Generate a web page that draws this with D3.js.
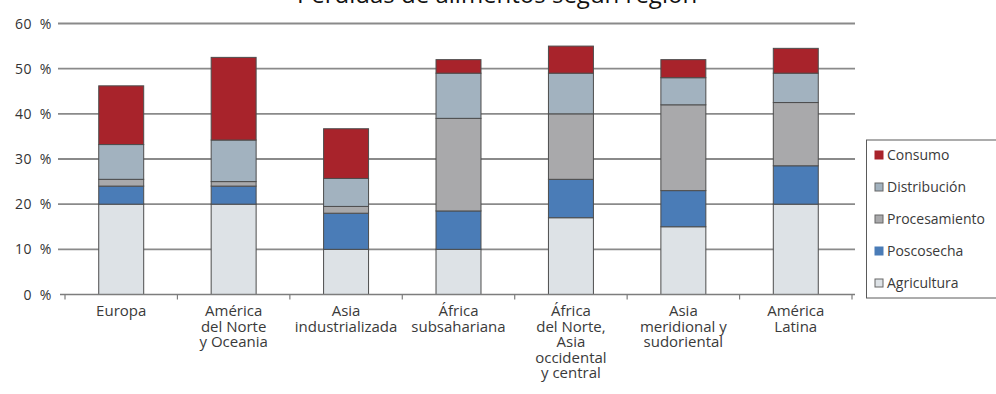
<!DOCTYPE html>
<html lang="es">
<head>
<meta charset="utf-8">
<script src="https://cdn.jsdelivr.net/npm/d3@7/dist/d3.min.js"></script>
<style>
  html, body { margin: 0; padding: 0; background: #ffffff; }
  svg { display: block; }
  text { font-family: "Open Sans", "Noto Sans", sans-serif; fill: #3a3a3a; }
</style>
</head>
<body>
<svg id="chart" width="996" height="394"></svg>
<script>
// Regiones (con sus saltos de línea) y porcentajes de pérdida por etapa
const categories = [
  "Europa",
  "América del Norte y Oceania",
  "Asia industrializada",
  "África subsahariana",
  "África del Norte, Asia occidental y central",
  "Asia meridional y sudoriental",
  "América Latina"
];
const categoryLines = [
  ["Europa"],
  ["América", "del Norte", "y Oceania"],
  ["Asia", "industrializada"],
  ["África", "subsahariana"],
  ["África", "del Norte,", "Asia", "occidental", "y central"],
  ["Asia", "meridional y", "sudoriental"],
  ["América", "Latina"]
];
const stages = ["Agricultura", "Poscosecha", "Procesamiento", "Distribución", "Consumo"];
const agricultura   = [20, 20, 10, 10, 17, 15, 20];
const poscosecha    = [4, 4, 8, 8.5, 8.5, 8, 8.5];
const procesamiento = [1.5, 1, 1.5, 20.5, 14.5, 19, 14];
const distribucion  = [7.7, 9.2, 6.2, 10, 9, 6, 6.5];
const consumo       = [13, 18.3, 11, 3, 6, 4, 5.5];
const yTicks = [0, 10, 20, 30, 40, 50, 60];
const titleText = "Pérdidas de alimentos según región";

const colors = {
  "Agricultura":   "#dde2e6",
  "Poscosecha":    "#4a7cb7",
  "Procesamiento": "#a9a9ab",
  "Distribución":  "#a2b2bf",
  "Consumo":       "#a8232b"
};

const seriesByStage = {
  "Agricultura": agricultura,
  "Poscosecha": poscosecha,
  "Procesamiento": procesamiento,
  "Distribución": distribucion,
  "Consumo": consumo
};
const rows = categories.map((c, i) => {
  const r = { region: c };
  stages.forEach(s => { r[s] = seriesByStage[s][i]; });
  return r;
});

const svg = d3.select("#chart");

const x = d3.scaleBand()
  .domain(categories)
  .range([65, 852])
  .paddingInner(0.6)
  .paddingOuter(0.3);

const y = d3.scaleLinear()
  .domain([0, 60])
  .range([294.5, 23.5]);

// Título (parte superior del lienzo)
svg.append("text")
  .attr("x", 497)
  .attr("y", 3)
  .attr("text-anchor", "middle")
  .style("font-family", "'Open Sans', sans-serif")
  .style("font-size", "24px")
  .style("fill", "#111")
  .text(titleText);

// Líneas de cuadrícula horizontales
const grid = svg.append("g");
grid.selectAll("line")
  .data(yTicks.filter(d => d > 0))
  .join("line")
  .attr("x1", 58)
  .attr("x2", 855)
  .attr("y1", d => y(d))
  .attr("y2", d => y(d))
  .attr("stroke", "#8a8a8a")
  .attr("stroke-width", 1.8);

// Etiquetas del eje Y
svg.append("g").selectAll("text")
  .data(yTicks)
  .join("text")
  .attr("x", 52)
  .attr("y", d => y(d))
  .attr("dy", "0.36em")
  .attr("text-anchor", "end")
  .style("font-size", "14px")
  .style("letter-spacing", "0.6px")
  .style("fill", "#333")
  .text(d => d + "\u2002%");

// Barras apiladas
const stacked = d3.stack().keys(stages)(rows);
svg.append("g")
  .selectAll("g")
  .data(stacked)
  .join("g")
  .attr("fill", d => colors[d.key])
  .selectAll("rect")
  .data(d => d)
  .join("rect")
  .attr("x", d => x(d.data.region))
  .attr("width", x.bandwidth())
  .attr("y", d => y(d[1]))
  .attr("height", d => y(d[0]) - y(d[1]))
  .attr("stroke", "#4d4d4d")
  .attr("stroke-width", 1);

// Eje X: línea base y marcas entre regiones
const xAxis = svg.append("g");
xAxis.append("line")
  .attr("x1", 60).attr("x2", 855)
  .attr("y1", y(0)).attr("y2", y(0))
  .attr("stroke", "#7d7d7d")
  .attr("stroke-width", 1.6);
const step = x.step();
const boundaries = d3.range(categories.length + 1).map(i => x.range()[0] + i * step);
xAxis.selectAll("line.tick")
  .data(boundaries)
  .join("line")
  .attr("class", "tick")
  .attr("x1", d => d).attr("x2", d => d)
  .attr("y1", y(0)).attr("y2", y(0) + 5)
  .attr("stroke", "#7d7d7d")
  .attr("stroke-width", 1.2);

// Etiquetas de las regiones
const labels = svg.append("g").selectAll("text")
  .data(categories)
  .join("text")
  .attr("x", d => x(d) + x.bandwidth() / 2)
  .attr("y", 316)
  .attr("text-anchor", "middle")
  .style("font-size", "15px");
labels.each(function(d, i) {
  const t = d3.select(this);
  categoryLines[i].forEach((line, j) => {
    t.append("tspan")
      .attr("x", x(d) + x.bandwidth() / 2)
      .attr("dy", j === 0 ? 0 : 15.5)
      .text(line);
  });
});

// Leyenda
const legendTop = 140, legendBottom = 298;
const legend = svg.append("g");
legend.append("rect")
  .attr("x", 866.5)
  .attr("y", legendTop)
  .attr("width", 140)
  .attr("height", legendBottom - legendTop)
  .attr("fill", "#fff")
  .attr("stroke", "#5a5a5a")
  .attr("stroke-width", 1);
const legendY = d3.scalePoint()
  .domain(stages.slice().reverse())
  .range([155, 283]);
const items = legend.selectAll("g.item")
  .data(stages.slice().reverse())
  .join("g")
  .attr("class", "item")
  .attr("transform", d => `translate(875,${legendY(d)})`);
items.append("rect")
  .attr("x", 0).attr("y", -4)
  .attr("width", 8).attr("height", 8)
  .attr("fill", d => colors[d])
  .attr("stroke", d => d === "Consumo" || d === "Poscosecha" ? colors[d] : "#666")
  .attr("stroke-width", 1);
items.append("text")
  .attr("x", 12)
  .attr("dy", "0.36em")
  .style("font-size", "14px")
  .text(d => d);
</script>
</body>
</html>
